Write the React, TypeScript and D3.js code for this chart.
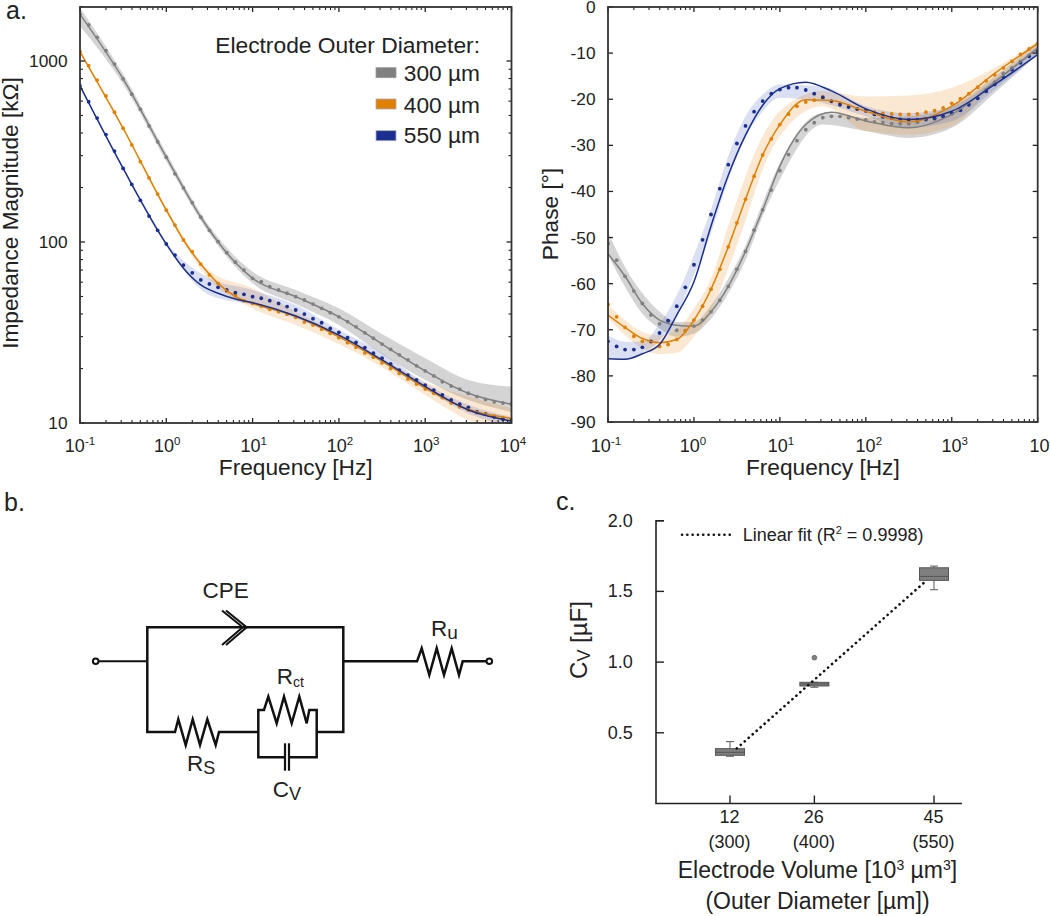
import React from "react";
import * as d3 from "d3";

const FONT = "'Liberation Sans', Arial, sans-serif";
const INK = "#222";

const freqHz = [0.1,0.126,0.158,0.2,0.251,0.316,0.398,0.501,0.631,0.794,1,1.26,1.58,2,2.51,3.16,3.98,5.01,6.31,7.94,10,12.6,15.8,20,25.1,31.6,39.8,50.1,63.1,79.4,100,126,158,200,251,316,398,501,631,794,1000,1260,1580,2000,2510,3160,3980,5010,6310,7940,10000];

const labels = ["300 µm", "400 µm", "550 µm"];
const lineColors = ["#808080", "#e08000", "#1a2f8f"];
const bandColors = ["rgba(120,120,120,0.32)", "rgba(232,150,50,0.22)", "rgba(70,95,190,0.2)"];

// Impedance magnitude, measured means [kOhm]
const mag300 = [1811,1581,1352,1140,962,796,655,541,438,358,294,238,199,165,137,116,100.4,87.3,77.3,70,63,60.4,56.6,54.3,52.1,49.9,47.8,45.4,43,40.7,38.6,36.3,34,31.5,29.4,27.3,25.5,23.8,22.3,20.7,19.4,18.2,16.9,16,15.4,14.6,14,13.5,13.1,12.9,12.7];
const mag400 = [1125,942,785,641,521,425,344,278,226,184,150,124,102.6,88.4,75.5,65.8,59.1,53.6,50.5,47.4,45.8,44.3,42.5,41.2,39.9,38.4,36.1,34.8,33,31.3,29.6,27.8,26.2,24.4,23.1,21.5,20,18.8,17.5,16.4,15.4,14.6,13.8,12.9,12.3,11.8,11.4,11.2,10.9,10.7,10.5];
const mag550 = [728,596,484,392,318,255,208,170,139,116,97.5,84.7,74.6,67.6,61.7,58.6,56.2,54.3,52.5,51.4,49.9,48.9,47.4,45.8,44,42.1,40,37.7,35.8,33.3,31.7,29.6,27.9,26.1,24.3,22.8,21.2,19.6,18.4,17.3,16.2,15.2,14.3,13.4,12.7,12.2,11.5,11.2,10.8,10.5,10.3];

// Impedance magnitude, model fit
const magFitFreq = [0.1,0.316,1,1.58,2.51,3.98,6.31,10,31.6,100,316,1000,3160,10000];
const magFit300 = [1811,796,294,199,137,100,77,63,49.9,38.6,27.3,19.4,14.6,12.7];
const magFit400 = [1125,425,150,102.6,75.5,59.1,50,45.8,38.9,29.9,21.9,15.6,11.9,10.6];
const magFit550 = [728,255,97.5,71.6,57.9,52.1,48.4,46.2,39,30.6,22.3,15.9,11.8,10.25];

// Impedance magnitude, spread
const magBandFreq = [0.1,0.316,1,3.16,10,31.6,100,316,1000,3160,10000];
const magHi300 = [1963,847,310,122,68.5,54.3,43,31,22.8,17.3,15.9];
const magLo300 = [1560,746,279,111,59.1,45.4,34.8,24,17.3,13.4,11.5];
const magHi400 = [1153,435,155,69.4,55.5,41.2,31.3,22.8,16.9,14,12.1];
const magLo400 = [1096,414,146,61.7,43,34.8,27.3,20.3,14.3,10.4,8.8];
const magHi550 = [737,259,99.3,63,54.3,44.9,32.7,24.3,16.6,12.6,10.8];
const magLo550 = [718,251,95.7,50.9,44.9,37.9,29.7,21.8,15.4,11.3,9.5];

// Phase, measured means [deg]
const ph300 = [-51.3,-54.9,-58.4,-61.6,-64.3,-66.8,-68.7,-68.1,-70.1,-70.2,-69.2,-67.9,-66.1,-63.6,-60.6,-56.9,-53,-48.4,-44,-39.7,-35.5,-32,-29,-26.6,-25.1,-24,-23.7,-23.7,-24,-24.3,-24.5,-24.9,-25.1,-25.3,-25.3,-25.3,-25,-24.5,-24.3,-23.7,-23,-22.1,-21,-19.7,-17.9,-16.3,-14.4,-13.2,-11.8,-10.5,-9.2];
const ph400 = [-64.5,-67.2,-69.5,-71.4,-72.5,-72.6,-73.6,-73.2,-72.1,-70.2,-67.9,-64.9,-61.2,-56.9,-52,-46.8,-41.7,-36.7,-32.1,-28.6,-25.5,-23.2,-21.5,-20.6,-20.2,-19.5,-20.5,-20.9,-21.5,-22.1,-22.5,-22.8,-23.1,-23.2,-23.3,-23.3,-23.2,-22.8,-22.5,-21.9,-20.9,-19.9,-18.8,-17.4,-16,-14.7,-13.2,-11.8,-10.3,-9.1,-7.9];
const ph550 = [-72.5,-73.6,-74.3,-74.3,-73.8,-72.5,-70.7,-68,-64.9,-60.8,-55.9,-50.5,-45,-39.4,-34.2,-29.6,-25.8,-22.7,-20.4,-18.8,-17.9,-17.5,-17.5,-18,-18.8,-19.6,-20.4,-21.2,-21.7,-22.1,-22.5,-23.3,-23.8,-24.1,-24.4,-24.5,-24.5,-24.3,-24.1,-23.7,-23.1,-22.4,-21.2,-19.8,-18.3,-16.8,-15.2,-13.6,-12.1,-10.7,-9.6];

// Phase, model fit
const phFitFreq = [0.1,0.158,0.251,0.398,0.631,1,1.58,2.51,3.98,6.31,10,20,39.8,100,316,1000,3160,10000];
const phFit300 = [-53.5,-58.4,-64.3,-67.9,-69,-69.2,-66.1,-60.6,-53,-44,-34.5,-25.5,-22.8,-24.7,-26.2,-23.3,-16.3,-8.9];
const phFit400 = [-66.8,-69.5,-71.9,-72.8,-72.1,-67.9,-61.2,-52,-41.7,-32.1,-25.5,-20.1,-20.3,-22.6,-24.9,-21.5,-14.4,-7.9];
const phFit550 = [-76.3,-76.4,-75.2,-73.2,-66.8,-59.6,-47.5,-36.5,-27.8,-21.3,-17.7,-16.3,-18.2,-22.1,-24.4,-22.6,-16.8,-10.3];

// Phase, spread
const phBandFreq = [0.1,0.158,0.251,0.398,0.631,1,1.58,2.51,3.98,6.31,10,31.6,100,316,1000,3160,10000];
const phHi300 = [-48.8,-56.4,-62.1,-66.1,-68.3,-68.3,-64.7,-58.9,-51.7,-42.5,-33.8,-23,-24,-23.7,-21.5,-15,-7.8];
const phLo300 = [-53.8,-60.7,-66.5,-69.7,-71.5,-70.8,-67.6,-62.1,-54.9,-45.3,-37.4,-25.5,-26.9,-28.4,-26.2,-18.6,-10.3];
const phHi400 = [-64.5,-67.9,-70.5,-71.2,-70,-65.4,-58.9,-47.5,-36.7,-28,-22.6,-18.2,-19.4,-19.2,-17.5,-13.2,-7.4];
const phLo400 = [-67.5,-71.2,-74.1,-75.3,-75,-71.5,-66.1,-56.7,-46.4,-35.2,-28,-21.5,-26.9,-27.7,-25.8,-16.5,-8.9];
const phHi550 = [-71.2,-72.6,-72.6,-68.7,-62.5,-53.8,-43.9,-32.3,-23.7,-19,-16.8,-17.3,-21.5,-23,-21.5,-15.7,-8.5];
const phLo550 = [-76.3,-76.4,-75,-72.3,-66.8,-58.2,-49,-37.4,-28.4,-22.6,-19.7,-20.8,-23.7,-26.2,-24.8,-17.9,-10.3];

const xExponents = [-1, 0, 1, 2, 3, 4];
const magTicks = [10, 100, 1000];
const phaseTicks = [0, -10, -20, -30, -40, -50, -60, -70, -80, -90];

// Panel c
const volumes = [12, 25.65, 45];
const volumeLabels = ["12", "26", "45"];
const diameterLabels = ["(300)", "(400)", "(550)"];
const boxLow = [0.334, 0.822, 1.512];
const boxQ1 = [0.341, 0.831, 1.578];
const boxMedian = [0.362, 0.845, 1.606];
const boxQ3 = [0.388, 0.857, 1.667];
const boxHigh = [0.438, 0.857, 1.679];
const outlierX = [25.65];
const outlierY = [1.031];
const fitVolumes = [13.1, 43.6];
const fitCv = [0.39, 1.57];
const cvTicks = [0.5, 1.0, 1.5, 2.0];

type Curve = { f: number[]; v: number[] };

function Panel(props: {
  id: string; left: number; right: number; top: number; bottom: number;
  y: any; yTicks: number[]; yMinor: number[]; labelDx: number[];
  bands: { f: number[]; hi: number[]; lo: number[] }[];
  fits: Curve[]; dots: number[][];
}) {
  const { id, left, right, top, bottom, y, yTicks, yMinor, labelDx, bands, fits, dots } = props;
  const x = d3.scaleLog().domain([0.1, 10000]).range([left, right]);
  const line = d3.line<[number, number]>().x(d => x(d[0])).y(d => y(d[1])).curve(d3.curveMonotoneX);
  const area = d3.area<[number, number, number]>().x(d => x(d[0])).y0(d => y(d[2])).y1(d => y(d[1])).curve(d3.curveMonotoneX);
  const xMinor: number[] = [];
  xExponents.slice(0, 5).forEach(e => { for (let m = 2; m <= 9; m++) xMinor.push(m * Math.pow(10, e)); });
  return (
    <g>
      <clipPath id={id}><rect x={left} y={top} width={right - left} height={bottom - top} /></clipPath>
      <g clipPath={`url(#${id})`}>
        {bands.map((b, i) => (
          <path key={i} d={area(b.f.map((f, k) => [f, b.hi[k], b.lo[k]] as [number, number, number])) || ""} fill={bandColors[i]} />
        ))}
        {dots.map((s, i) => s.map((v, k) => (
          <circle key={`${i}-${k}`} cx={x(freqHz[k])} cy={y(v)} r={1.9} fill={lineColors[i]} />
        )))}
        {fits.map((c, i) => (
          <path key={i} d={line(c.f.map((f, k) => [f, c.v[k]] as [number, number])) || ""} fill="none" stroke={lineColors[i]} strokeWidth={1.5} />
        ))}
      </g>
      {xExponents.map((e, i) => {
        const px = x(Math.pow(10, e));
        return (
          <g key={e}>
            <line x1={px} x2={px} y1={bottom} y2={bottom - 5} stroke={INK} strokeWidth={1.3} />
            <line x1={px} x2={px} y1={top} y2={top + 5} stroke={INK} strokeWidth={1.3} />
            <text x={px + labelDx[i]} y={452} textAnchor="middle" fontSize={18} fill={INK}>10<tspan fontSize={11.5} dy={-7}>{e}</tspan></text>
          </g>
        );
      })}
      {xMinor.map(f => (
        <g key={f}>
          <line x1={x(f)} x2={x(f)} y1={bottom} y2={bottom - 3} stroke={INK} strokeWidth={1.1} />
          <line x1={x(f)} x2={x(f)} y1={top} y2={top + 3} stroke={INK} strokeWidth={1.1} />
        </g>
      ))}
      {yTicks.map(t => (
        <g key={t}>
          <line x1={left} x2={left + 5} y1={y(t)} y2={y(t)} stroke={INK} strokeWidth={1.3} />
          <line x1={right} x2={right - 5} y1={y(t)} y2={y(t)} stroke={INK} strokeWidth={1.3} />
          <text x={left - 12.5} y={y(t) + 6} textAnchor="end" fontSize={17.3} fill={INK}>{t}</text>
        </g>
      ))}
      {yMinor.map(t => (
        <g key={t}>
          <line x1={left} x2={left + 3} y1={y(t)} y2={y(t)} stroke={INK} strokeWidth={1.1} />
          <line x1={right} x2={right - 3} y1={y(t)} y2={y(t)} stroke={INK} strokeWidth={1.1} />
        </g>
      ))}
      <rect x={left} y={top} width={right - left} height={bottom - top} fill="none" stroke="#333" strokeWidth={1.8} />
      <text x={(left + right) / 2} y={475} textAnchor="middle" fontSize={22.7} fill={INK}>Frequency [Hz]</text>
    </g>
  );
}

function Zig({ pts, w = 2.5 }: { pts: [number, number][]; w?: number }) {
  const l = d3.line<[number, number]>();
  return <path d={l(pts) || ""} fill="none" stroke="#111" strokeWidth={w} strokeLinejoin="miter" />;
}

function Circuit() {
  return (
    <g>
      <Zig w={2} pts={[[98.5, 661.3], [147.3, 661.3]]} />
      <Zig pts={[[147.3, 661.3], [147.3, 627.3], [343.3, 627.3], [343.3, 732], [316.7, 732]]} />
      <Zig pts={[[147.3, 661.3], [147.3, 732], [175, 732], [178.3, 719.3], [185.7, 745], [192.7, 719.3], [200, 745], [207.3, 719.3], [215.7, 745], [219, 732], [258.3, 732]]} />
      <Zig pts={[[258.3, 732], [258.3, 710], [264, 710], [268.3, 696.7], [276.7, 723.3], [284, 696.7], [291.7, 723.3], [299.3, 696.7], [306.7, 723.3], [309.3, 710], [316.7, 710], [316.7, 757.3], [288.5, 757.3]]} />
      <Zig pts={[[258.3, 732], [258.3, 757.3], [285, 757.3]]} />
      <Zig w={2.2} pts={[[285, 743.3], [285, 770.7]]} />
      <Zig w={2.2} pts={[[289, 743.3], [289, 770.7]]} />
      <Zig w={2} pts={[[226, 610.5], [246.7, 627.3], [226, 645]]} />
      <Zig w={2} pts={[[222, 610.5], [242.7, 627.3], [222, 645]]} />
      <Zig pts={[[343.3, 661.3], [417, 661.3], [421.7, 648.3], [429.3, 675], [436.7, 648.3], [444, 675], [451.7, 648.3], [459, 675], [462.7, 661.3], [486.5, 661.3]]} />
      <circle cx={95.7} cy={661.3} r={2.8} fill="#fff" stroke="#111" strokeWidth={2} />
      <circle cx={489.3} cy={661.3} r={2.8} fill="#fff" stroke="#111" strokeWidth={2} />
      <text x={225.7} y={597.7} textAnchor="middle" fontSize={22.5} fill={INK}>CPE</text>
      <text x={431} y={636} fontSize={22.5} fill={INK}>R<tspan fontSize={19} dy={3}>u</tspan></text>
      <text x={276.7} y={684} fontSize={22.5} fill={INK}>R<tspan fontSize={14} dy={3}>ct</tspan></text>
      <text x={187} y={770.7} fontSize={22.5} fill={INK}>R<tspan fontSize={18} dy={3}>S</tspan></text>
      <text x={272.7} y={797} fontSize={22.5} fill={INK}>C<tspan fontSize={18} dy={3}>V</tspan></text>
    </g>
  );
}

function PanelC() {
  const x = d3.scaleLinear().domain([12, 45]).range([730, 934]);
  const y = d3.scaleLinear().domain([0, 2]).range([803.5, 520.7]);
  const left = 656, bottom = 803.5, right = 962, top = 520.7;
  const fitLine = d3.line<number>().x(v => x(v)).y((_, i) => y(fitCv[i]));
  const boxW = 29;
  return (
    <g>
      <path d={`M${left + 8},${top}H${left}V${bottom}H${right}`} fill="none" stroke={INK} strokeWidth={1.6} />
      {cvTicks.map(t => (
        <g key={t}>
          <line x1={left} x2={left + 8} y1={y(t)} y2={y(t)} stroke={INK} strokeWidth={1.4} />
          <text x={632.7} y={y(t) + 6} textAnchor="end" fontSize={18} fill={INK}>{t.toFixed(1)}</text>
        </g>
      ))}
      {volumes.map((v, i) => (
        <g key={v}>
          <line x1={x(v)} x2={x(v)} y1={bottom} y2={bottom - 8} stroke={INK} strokeWidth={1.4} />
          <text x={x(v) - 0.5} y={823} textAnchor="middle" fontSize={18} fill={INK}>{volumeLabels[i]}</text>
          <text x={x(v) - 0.5} y={847.5} textAnchor="middle" fontSize={18} fill={INK}>{diameterLabels[i]}</text>
          <line x1={x(v)} x2={x(v)} y1={y(boxLow[i])} y2={y(boxHigh[i])} stroke="#666" strokeWidth={1.1} />
          <line x1={x(v) - 4} x2={x(v) + 4} y1={y(boxLow[i])} y2={y(boxLow[i])} stroke="#666" strokeWidth={1.1} />
          <line x1={x(v) - 4} x2={x(v) + 4} y1={y(boxHigh[i])} y2={y(boxHigh[i])} stroke="#666" strokeWidth={1.1} />
          <rect x={x(v) - boxW / 2} y={y(boxQ3[i])} width={boxW} height={y(boxQ1[i]) - y(boxQ3[i])} fill="#7f7f7f" stroke="#555" strokeWidth={1} />
          <line x1={x(v) - boxW / 2} x2={x(v) + boxW / 2} y1={y(boxMedian[i])} y2={y(boxMedian[i])} stroke="#555" strokeWidth={1} />
        </g>
      ))}
      {outlierX.map((v, i) => (
        <circle key={v} cx={x(v)} cy={y(outlierY[i])} r={2.4} fill="#808080" stroke="#555" strokeWidth={0.7} />
      ))}
      <path d={fitLine(fitVolumes) || ""} fill="none" stroke="#111" strokeWidth={2.6} strokeDasharray="0.1 5.2" strokeLinecap="round" />
      <line x1={682} x2={730} y1={534.7} y2={534.7} stroke="#111" strokeWidth={2.6} strokeDasharray="0.1 5.2" strokeLinecap="round" />
      <text x={742.7} y={541} fontSize={18} fill={INK}>Linear fit (R<tspan fontSize={11} dy={-7}>2</tspan><tspan dy={7}> = 0.9998)</tspan></text>
      <text transform="translate(587,640) rotate(-90)" textAnchor="middle" fontSize={24} fill={INK}>C<tspan fontSize={18} dy={3}>V</tspan><tspan dy={-3}> [µF]</tspan></text>
      <text x={817.5} y={878} textAnchor="middle" fontSize={23} fill={INK}>Electrode Volume [10<tspan fontSize={14} dy={-8}>3</tspan><tspan dy={8}> µm</tspan><tspan fontSize={14} dy={-8}>3</tspan><tspan dy={8}>]</tspan></text>
      <text x={817.5} y={909} textAnchor="middle" fontSize={23} fill={INK}>(Outer Diameter [µm])</text>
    </g>
  );
}

export default function App() {
  const yMag = d3.scaleLog().domain([10, 1000]).range([423, 61]);
  const yPhase = d3.scaleLinear().domain([-90, 0]).range([422, 7]);
  const magMinor: number[] = [];
  [10, 100, 1000].forEach(d => { for (let m = 2; m <= 9; m++) if (m * d <= 2000) magMinor.push(m * d); });
  const swatchY = [67.7, 99, 130.7];
  const labelY = [81, 112.7, 142.7];
  return (
    <svg width={1050} height={916} style={{ position: "absolute", left: 0, top: 0 }} fontFamily={FONT}>
      <rect width={1050} height={916} fill="#fff" />
      <Panel id="clipA" left={80} right={511.5} top={7} bottom={423} y={yMag} yTicks={magTicks} yMinor={magMinor} labelDx={[0, 1, 1, 1, 1, 1.5]}
        bands={[
          { f: magBandFreq, hi: magHi300, lo: magLo300 },
          { f: magBandFreq, hi: magHi400, lo: magLo400 },
          { f: magBandFreq, hi: magHi550, lo: magLo550 },
        ]}
        fits={[
          { f: magFitFreq, v: magFit300 },
          { f: magFitFreq, v: magFit400 },
          { f: magFitFreq, v: magFit550 },
        ]}
        dots={[mag300, mag400, mag550]} />
      <Panel id="clipB" left={608} right={1037.7} top={7} bottom={422} y={yPhase} yTicks={phaseTicks} yMinor={[]} labelDx={[-2, -1, 1, 3, 3, 5]}
        bands={[
          { f: phBandFreq, hi: phHi300, lo: phLo300 },
          { f: phBandFreq, hi: phHi400, lo: phLo400 },
          { f: phBandFreq, hi: phHi550, lo: phLo550 },
        ]}
        fits={[
          { f: phFitFreq, v: phFit300 },
          { f: phFitFreq, v: phFit400 },
          { f: phFitFreq, v: phFit550 },
        ]}
        dots={[ph300, ph400, ph550]} />
      <text transform="translate(17.5,213) rotate(-90)" textAnchor="middle" fontSize={22.7} fill={INK}>Impedance Magnitude [kΩ]</text>
      <text transform="translate(558,214) rotate(-90)" textAnchor="middle" fontSize={22.7} fill={INK}>Phase [°]</text>
      <text x={480} y={53.3} textAnchor="end" fontSize={22.8} fill={INK}>Electrode Outer Diameter:</text>
      {labels.map((l, i) => (
        <g key={l}>
          <rect x={376} y={swatchY[i]} width={20} height={10} fill={lineColors[i]} stroke={i === 0 ? "#999" : "#aab"} strokeWidth={0.8} />
          <text x={480} y={labelY[i]} textAnchor="end" fontSize={22.7} fill={INK}>{l}</text>
        </g>
      ))}
      <text x={6} y={19} fontSize={25} fill={INK}>a.</text>
      <text x={4} y={511} fontSize={25} fill={INK}>b.</text>
      <text x={556} y={510} fontSize={25} fill={INK}>c.</text>
      <Circuit />
      <PanelC />
    </svg>
  );
}
